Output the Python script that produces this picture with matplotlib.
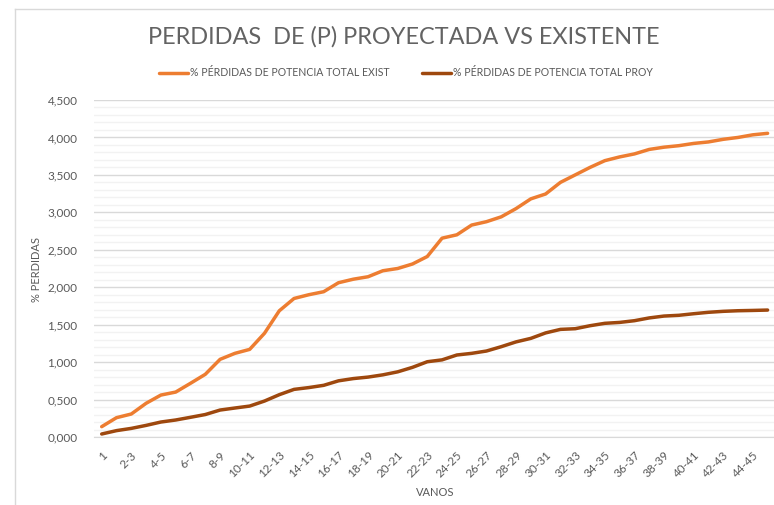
import numpy as np
import matplotlib
matplotlib.use("Agg")
import matplotlib.pyplot as plt
from matplotlib.ticker import MultipleLocator, FuncFormatter

plt.rcParams['font.family'] = ['Lato', 'DejaVu Sans']

# vanos: "1", "1-2", "2-3", ... "45-46"
vanos = ["1"] + [f"{i}-{i+1}" for i in range(1, 46)]

exist = [0.138, 0.258, 0.307, 0.45, 0.56, 0.60, 0.717, 0.837, 1.037, 1.117,
         1.17, 1.385, 1.685, 1.85, 1.90, 1.94, 2.06, 2.107, 2.14, 2.22,
         2.25, 2.31, 2.41, 2.655, 2.70, 2.83, 2.875, 2.94, 3.05, 3.18,
         3.245, 3.40, 3.50, 3.60, 3.69, 3.74, 3.78, 3.84, 3.87, 3.89,
         3.92, 3.94, 3.975, 4.00, 4.035, 4.055]

proy = [0.04, 0.085, 0.115, 0.155, 0.20, 0.227, 0.263, 0.30, 0.36, 0.387,
        0.413, 0.48, 0.565, 0.636, 0.66, 0.69, 0.75, 0.78, 0.80, 0.83,
        0.87, 0.93, 1.005, 1.03, 1.095, 1.117, 1.148, 1.206, 1.27, 1.317,
        1.39, 1.437, 1.446, 1.486, 1.518, 1.53, 1.553, 1.59, 1.615, 1.625,
        1.646, 1.665, 1.678, 1.686, 1.69, 1.695]

lbl_exist = "% PÉRDIDAS DE POTENCIA TOTAL EXIST"
lbl_proy = "% PÉRDIDAS DE POTENCIA TOTAL PROY"

grey = "#595959"
W, H = 774, 505
fig = plt.figure(figsize=(W / 100, H / 100), dpi=100)

# chart border (cut off on the right/bottom)
fig.add_artist(plt.Line2D([15 / W, 15 / W], [0, 1 - 9 / H], color="#D9D9D9", lw=1))
fig.add_artist(plt.Line2D([15 / W, 1], [1 - 9 / H, 1 - 9 / H], color="#D9D9D9", lw=1))

ax = fig.add_axes([94.3 / W, 68 / H, (775 - 94.3) / W, 337 / H])
x = np.arange(len(vanos))
ax.plot(x, exist, color="#ED7D31", lw=2.5, label=lbl_exist, solid_capstyle="round")
ax.plot(x, proy, color="#9E480E", lw=2.5, label=lbl_proy, solid_capstyle="round")

ax.set_xlim(-0.5, len(vanos) - 0.5)
ax.set_ylim(0, 4.5)
ax.yaxis.set_major_locator(MultipleLocator(0.5))
ax.yaxis.set_minor_locator(MultipleLocator(0.1))
ax.yaxis.set_major_formatter(FuncFormatter(lambda v, p: f"{v:.3f}".replace(".", ",")))
ax.grid(which="major", axis="y", color="#D9D9D9", lw=1)
ax.grid(which="minor", axis="y", color="#F2F2F2", lw=1)
ax.set_axisbelow(True)

ax.set_xticks(x[::2])
ax.set_xticklabels(vanos[::2], rotation=45, ha="right", va="top",
                   rotation_mode="anchor", fontsize=8.5, color=grey)
ax.tick_params(axis="x", length=0, pad=9)
ax.tick_params(axis="y", which="both", length=0, pad=12, labelsize=8.5, labelcolor=grey)

for s in ["top", "right", "left"]:
    ax.spines[s].set_visible(False)
ax.spines["bottom"].set_color("#D9D9D9")

ax.set_xlabel("VANOS", fontsize=8, color=grey)
ax.xaxis.set_label_coords((435 - 94.3) / (775 - 94.3), -(487 - 437) / 337)
ax.set_ylabel("% PERDIDAS", fontsize=8, color=grey)
ax.yaxis.set_label_coords(-(94.3 - 42) / (775 - 94.3), (437 - 270) / 337)

fig.text(404 / W, 1 - 37 / H, "PERDIDAS  DE (P) PROYECTADA VS EXISTENTE",
         ha="center", va="center", fontsize=16.9, color="#636363", fontweight="normal")

ax.legend(loc="center", bbox_to_anchor=(406 / W, 1 - 73 / H), bbox_transform=fig.transFigure,
          ncol=2, frameon=False, fontsize=7.6, labelcolor=grey, handlelength=2.8,
          handletextpad=0.2, columnspacing=3.0)

fig.savefig("out.png", dpi=100)
